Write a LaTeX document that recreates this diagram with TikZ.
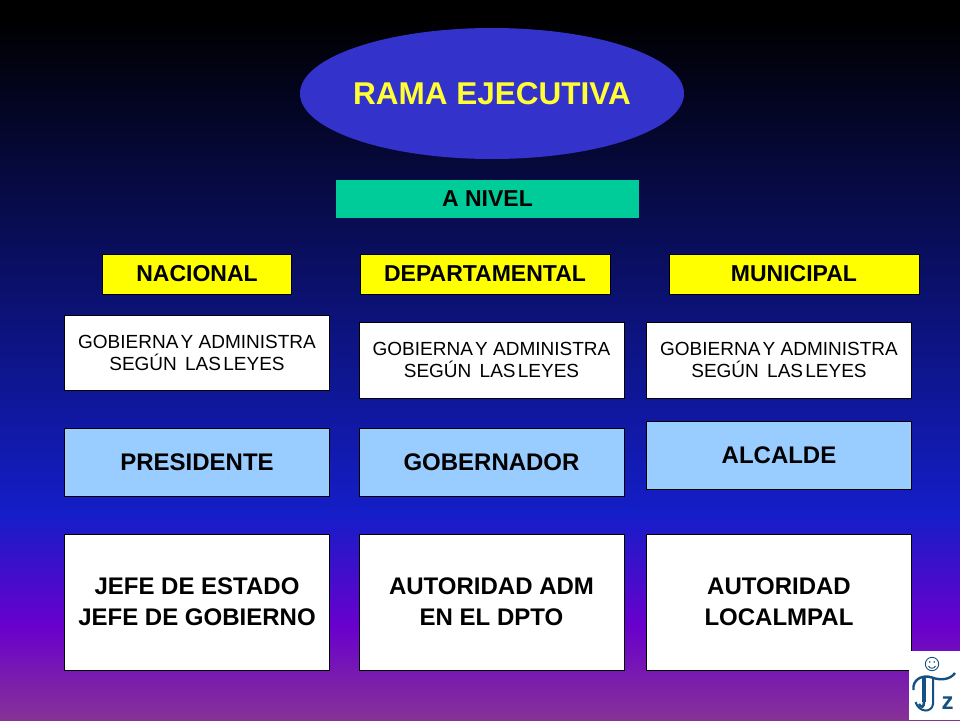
\documentclass[tikz,border=0pt]{standalone}
\usepackage{fontspec}
\setmainfont{Liberation Sans}
\usetikzlibrary{shapes.geometric}
\definecolor{ellblue}{RGB}{51,51,204}
\definecolor{teal}{RGB}{0,204,153}
\definecolor{lblue}{RGB}{153,204,255}
\definecolor{jzblue}{RGB}{20,80,130}
\definecolor{titley}{RGB}{255,255,51}
\definecolor{boxy}{RGB}{255,255,0}
\pgfdeclareverticalshading{slidebg}{100bp}{
 color(0bp)=(rgb,255:red,135;green,50;blue,150);
 color(25bp)=(rgb,255:red,135;green,50;blue,150);
 color(31.6bp)=(rgb,255:red,105;green,0;blue,205);
 color(39.3bp)=(rgb,255:red,20;green,30;blue,200);
 color(73.6bp)=(rgb,255:red,0;green,0;blue,0);
 color(100bp)=(rgb,255:red,0;green,0;blue,0)}
\tikzset{
 box/.style={draw=black,line width=0.8pt,rectangle,minimum width=#1,inner sep=0pt,align=center,font=\bfseries\fontsize{24}{29}\selectfont},
 level/.style={box=#1,fill=boxy,minimum height=40pt,font=\bfseries\fontsize{23}{27}\selectfont},
 lawbox/.style={box=265pt,fill=white,minimum height=76pt,font=\fontsize{19}{21.5}\selectfont},
 role/.style={box=265pt,fill=lblue,minimum height=68pt},
 duty/.style={box=265pt,fill=white,minimum height=136pt,font=\bfseries\fontsize{24}{31}\selectfont},
}
\newcommand{\gobtext}{GOBIERNA\kern-3pt{} Y ADMINISTRA\\SEGÚN\kern3pt{} LAS\kern-3pt{} LEYES}
\begin{document}
\begin{tikzpicture}[x=1pt,y=-1pt]
\useasboundingbox (0,0) rectangle (960,720);
\path[shading=slidebg] (0,0) rectangle (960,720);
\node[ellipse,fill=ellblue,minimum width=384pt,minimum height=131pt,inner sep=0pt,text=titley,font=\bfseries\fontsize{31.5}{38}\selectfont] (title) at (492,93.5) {\makebox[0pt]{RAMA EJECUTIVA}};
\node[box=303pt,draw=none,fill=teal,minimum height=38pt,font=\bfseries\fontsize{23}{27}\selectfont] (anivel) at (487.5,199) {A NIVEL};
\node[level=189pt] (nac) at (197,274) {NACIONAL};
\node[level=250pt] (dep) at (485,274) {DEPARTAMENTAL};
\node[level=250pt] (mun) at (794,274) {MUNICIPAL};
\node[lawbox,minimum height=75pt] (g1) at (197,353) {\gobtext};
\node[lawbox] (g2) at (491.5,360) {\gobtext};
\node[lawbox] (g3) at (779,360) {\gobtext};
\node[role] (r1) at (197,462) {PRESIDENTE};
\node[role] (r2) at (491.5,462) {GOBERNADOR};
\node[role] (r3) at (779,455) {ALCALDE};
\node[duty] (d1) at (197,602) {JEFE DE ESTADO\\JEFE DE GOBIERNO};
\node[duty] (d2) at (491.5,602) {AUTORIDAD ADM\\EN EL DPTO};
\node[duty] (d3) at (779,602) {AUTORIDAD\\LOCALMPAL};
% logo
\fill[white] (909,651) rectangle (960,720);
\draw[jzblue,line width=0.9pt] (932,664) circle (6.7);
\fill[jzblue] (929.7,662) circle (0.9) (934.3,662) circle (0.9);
\draw[jzblue,line width=0.9pt] (928.5,666) .. controls (930,669) and (934,669) .. (935.5,666);
\draw[jzblue,line width=2.4pt] (913.5,690) .. controls (912,680) and (922,674) .. (932,677.5) .. controls (940,680.5) and (950,680) .. (955,673);
\draw[jzblue,line width=4pt] (924,678) -- (924,702);
\draw[jzblue,line width=2pt] (933,678) -- (933,704) .. controls (932,713) and (919,713) .. (915.5,702);
\draw[jzblue,line width=2.5pt] (924,702) .. controls (924,708) and (921,708) .. (919,704);
\node[text=jzblue,inner sep=0pt,font=\bfseries\fontsize{24}{24}\selectfont] (zz) at (947.5,703) {z};
\end{tikzpicture}
\end{document}
